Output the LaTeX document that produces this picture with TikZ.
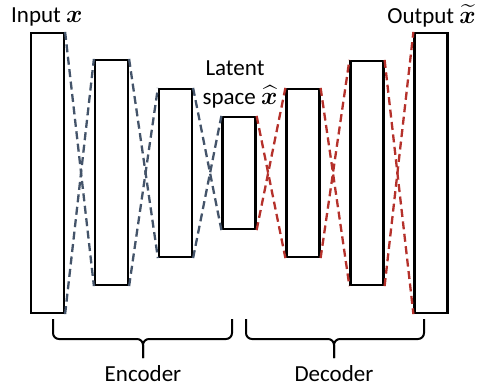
\documentclass[tikz,border=0pt]{standalone}
\usepackage{amsmath}
\usepackage{bm}
\usepackage{fontspec}
\setmainfont{Carlito}
\definecolor{encblue}{HTML}{44546A}
\definecolor{decred}{HTML}{B5312B}
\begin{document}
\begin{tikzpicture}[x=1pt,y=-1pt,
  layer/.style={draw=black, line width=2.2pt, fill=white, inner sep=0pt, minimum width=33pt},
  enclink/.style={draw=encblue, line width=2.3pt, dash pattern=on 8pt off 4.5pt},
  declink/.style={draw=decred, line width=2.3pt, dash pattern=on 8pt off 4.5pt},
  brace/.style={draw=black, line width=2pt, rounded corners=6pt},
  lbl/.style={font=\fontsize{23}{28}\selectfont, inner sep=0pt}]
\useasboundingbox (0,0) rectangle (478,389);

% layers
\node[layer, minimum height=280pt] (L1) at (47.5,173) {};
\node[layer, minimum height=225pt] (L2) at (111.5,172.5) {};
\node[layer, minimum height=168pt] (L3) at (175.5,173) {};
\node[layer, minimum height=112pt] (L4) at (239,173) {};
\node[layer, minimum height=168pt] (L5) at (303,173) {};
\node[layer, minimum height=224pt] (L6) at (367,173) {};
\node[layer, minimum height=280pt] (L7) at (431,173) {};

% encoder links
\draw[enclink] (L1.north east) -- (L2.south west);
\draw[enclink] (L1.south east) -- (L2.north west);
\draw[enclink] (L2.north east) -- (L3.south west);
\draw[enclink] (L2.south east) -- (L3.north west);
\draw[enclink] (L3.north east) -- (L4.south west);
\draw[enclink] (L3.south east) -- (L4.north west);
% decoder links
\draw[declink] (L4.north east) -- (L5.south west);
\draw[declink] (L4.south east) -- (L5.north west);
\draw[declink] (L5.north east) -- (L6.south west);
\draw[declink] (L5.south east) -- (L6.north west);
\draw[declink] (L6.north east) -- (L7.south west);
\draw[declink] (L6.south east) -- (L7.north west);

% labels
\node[lbl, anchor=base west] (in) at (11,22) {Input $\bm{x}$};
\node[lbl, anchor=base east] (out) at (476,23) {Output $\widetilde{\bm{x}}$};
\node[lbl, anchor=base] (lat1) at (235,75) {Latent};
\node[lbl, anchor=base] (lat2) at (240,104) {space $\widehat{\bm{x}}$};

% braces
\coordinate (e0) at (53,319);
\coordinate (e1) at (232,319);
\coordinate (etip) at (143,358);
\coordinate (d0) at (246,319);
\coordinate (d1) at (424,319);
\coordinate (dtip) at (334,358);
\draw[brace] (e0) |- (etip |- 0,339) -- (etip);
\draw[brace] (e1) |- (etip |- 0,339) -- (etip);
\draw[brace] (d0) |- (dtip |- 0,339) -- (dtip);
\draw[brace] (d1) |- (dtip |- 0,339) -- (dtip);

\node[lbl, anchor=base] (enc) at (143,381) {Encoder};
\node[lbl, anchor=base] (dec) at (334,381) {Decoder};
\end{tikzpicture}
\end{document}
